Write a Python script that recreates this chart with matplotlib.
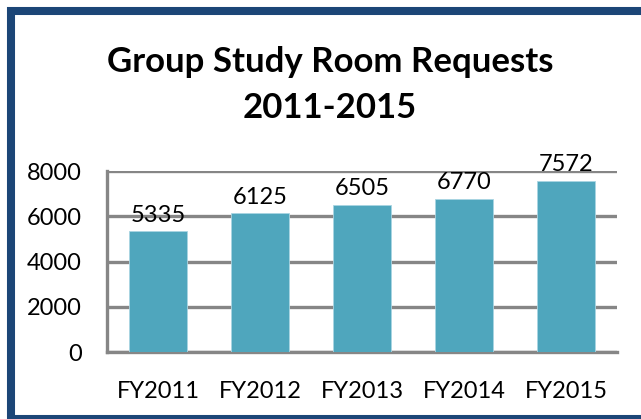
import matplotlib.pyplot as plt
from matplotlib.patches import Rectangle

years = ['FY2011', 'FY2012', 'FY2013', 'FY2014', 'FY2015']
requests = [5335, 6125, 6505, 6770, 7572]
yticks = [0, 2000, 4000, 6000, 8000]

plt.rcParams['font.family'] = ['Lato', 'DejaVu Sans']

fig = plt.figure(figsize=(6.41, 4.19), dpi=100)
W, H = 641, 419

# dark blue frame round the chart (right side runs off the picture)
fig.patches.append(Rectangle((11 / W, 0), 660 / W, 408 / H, transform=fig.transFigure,
                             fill=False, edgecolor='#1C4677', linewidth=5.8, zorder=0))

ax = fig.add_axes([107 / W, (H - 352) / H, 510 / W, (352 - 171) / H])
x = range(len(years))
ax.bar(x, requests, width=0.56, color='#4FA6BD', edgecolor='#A9D5E2', linewidth=0.6, zorder=3)
for i, v in zip(x, requests):
    ax.text(i, v + 250, str(v), ha='center', va='bottom', fontsize=17)

ax.set_xlim(-0.5, len(years) - 0.5)
ax.set_ylim(0, 8000)
ax.set_yticks(yticks)
ax.set_xticks(list(x))
ax.set_xticklabels(years)
ax.tick_params(axis='both', length=0, labelsize=17)
ax.tick_params(axis='x', pad=21)
ax.tick_params(axis='y', pad=18)
ax.grid(axis='y', color='#868686', linewidth=2.4, zorder=0)
for s in ['top', 'right']:
    ax.spines[s].set_visible(False)
ax.spines['left'].set_color('#868686')
ax.spines['left'].set_linewidth(2.4)
ax.spines['bottom'].set_color('#868686')
ax.spines['bottom'].set_linewidth(2.4)

fig.text(330 / W, (H - 62) / H, 'Group Study Room Requests', ha='center', va='center',
         fontsize=25, fontweight='bold')
fig.text(330 / W, (H - 108) / H, '2011-2015', ha='center', va='center',
         fontsize=25, fontweight='bold')

fig.savefig('out.png', dpi=100)
